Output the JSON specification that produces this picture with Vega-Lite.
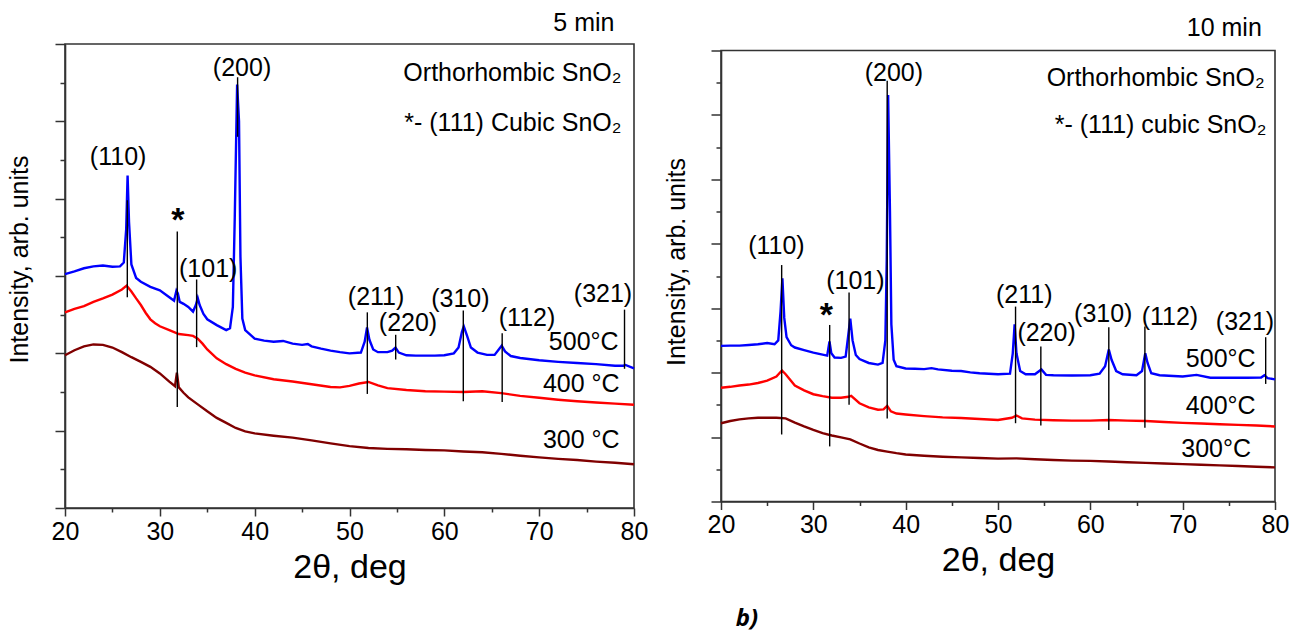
{
  "$schema": "https://vega.github.io/schema/vega-lite/v6.json",
  "autosize": {"type": "pad"},
  "padding": {"left": 6, "top": 9, "right": 10, "bottom": 5},
  "background": "white",
  "config": {
    "view": {"stroke": "#333333", "strokeWidth": 1.6},
    "axis": {
      "grid": false,
      "domainColor": "#333333", "domainWidth": 1.6,
      "tickColor": "#333333", "tickWidth": 1.5,
      "labelFont": "Liberation Sans", "labelFontSize": 25, "labelColor": "#000000",
      "titleFont": "Liberation Sans", "titleFontWeight": "normal", "titleColor": "#000000"
    },
    "text": {"font": "Liberation Sans", "fontSize": 25, "color": "#000000"}
  },
  "datasets": {
    "curves5": [
      {"t":"500","x":20,"y":6.05},{"t":"500","x":21,"y":6.12},{"t":"500","x":22,"y":6.2},{"t":"500","x":23,"y":6.25},{"t":"500","x":24,"y":6.27},{"t":"500","x":25,"y":6.24},{"t":"500","x":25.8,"y":6.25},{"t":"500","x":26.2,"y":6.35},{"t":"500","x":26.45,"y":7.2},{"t":"500","x":26.6,"y":8.6},{"t":"500","x":26.75,"y":7.4},{"t":"500","x":27,"y":6.3},{"t":"500","x":27.5,"y":5.95},{"t":"500","x":28,"y":5.85},{"t":"500","x":29,"y":5.72},{"t":"500","x":30,"y":5.63},{"t":"500","x":31,"y":5.45},{"t":"500","x":31.5,"y":5.36},{"t":"500","x":31.75,"y":5.62},{"t":"500","x":31.9,"y":5.55},{"t":"500","x":32.1,"y":5.33},{"t":"500","x":32.5,"y":5.28},{"t":"500","x":33,"y":5.2},{"t":"500","x":33.5,"y":5.08},{"t":"500","x":33.8,"y":5.25},{"t":"500","x":34,"y":5.43},{"t":"500","x":34.2,"y":5.25},{"t":"500","x":34.6,"y":5.02},{"t":"500","x":35,"y":4.88},{"t":"500","x":36,"y":4.73},{"t":"500","x":37,"y":4.6},{"t":"500","x":37.4,"y":4.65},{"t":"500","x":37.7,"y":5.2},{"t":"500","x":37.9,"y":7.5},{"t":"500","x":38.15,"y":10.95},{"t":"500","x":38.35,"y":10.0},{"t":"500","x":38.5,"y":6.5},{"t":"500","x":38.7,"y":4.9},{"t":"500","x":39,"y":4.6},{"t":"500","x":40,"y":4.38},{"t":"500","x":41,"y":4.33},{"t":"500","x":42,"y":4.3},{"t":"500","x":43,"y":4.32},{"t":"500","x":44,"y":4.25},{"t":"500","x":45,"y":4.22},{"t":"500","x":45.6,"y":4.24},{"t":"500","x":46,"y":4.18},{"t":"500","x":47,"y":4.12},{"t":"500","x":48,"y":4.07},{"t":"500","x":49,"y":4.03},{"t":"500","x":50,"y":4.0},{"t":"500","x":51.2,"y":4.02},{"t":"500","x":51.6,"y":4.3},{"t":"500","x":51.85,"y":4.67},{"t":"500","x":52.1,"y":4.35},{"t":"500","x":52.5,"y":4.1},{"t":"500","x":53,"y":4.03},{"t":"500","x":54,"y":4.03},{"t":"500","x":54.5,"y":4.07},{"t":"500","x":54.85,"y":4.15},{"t":"500","x":55.2,"y":4.02},{"t":"500","x":56,"y":3.95},{"t":"500","x":57,"y":3.94},{"t":"500","x":58,"y":3.94},{"t":"500","x":59,"y":3.94},{"t":"500","x":60,"y":3.95},{"t":"500","x":61,"y":4.0},{"t":"500","x":61.5,"y":4.15},{"t":"500","x":61.85,"y":4.55},{"t":"500","x":62.05,"y":4.7},{"t":"500","x":62.4,"y":4.45},{"t":"500","x":62.8,"y":4.15},{"t":"500","x":63.5,"y":4.02},{"t":"500","x":64.5,"y":3.96},{"t":"500","x":65.3,"y":3.96},{"t":"500","x":65.8,"y":4.12},{"t":"500","x":66.05,"y":4.2},{"t":"500","x":66.4,"y":4.05},{"t":"500","x":67,"y":3.93},{"t":"500","x":68,"y":3.88},{"t":"500","x":70,"y":3.82},{"t":"500","x":72,"y":3.78},{"t":"500","x":74,"y":3.75},{"t":"500","x":76,"y":3.72},{"t":"500","x":78,"y":3.68},{"t":"500","x":78.9,"y":3.68},{"t":"500","x":79.1,"y":3.7},{"t":"500","x":80,"y":3.61},
      {"t":"400","x":20,"y":5.06},{"t":"400","x":21,"y":5.15},{"t":"400","x":22,"y":5.22},{"t":"400","x":23,"y":5.33},{"t":"400","x":24,"y":5.42},{"t":"400","x":25,"y":5.52},{"t":"400","x":26,"y":5.65},{"t":"400","x":26.5,"y":5.75},{"t":"400","x":27,"y":5.6},{"t":"400","x":27.5,"y":5.42},{"t":"400","x":28,"y":5.25},{"t":"400","x":28.5,"y":5.05},{"t":"400","x":29,"y":4.88},{"t":"400","x":29.5,"y":4.78},{"t":"400","x":30,"y":4.7},{"t":"400","x":31,"y":4.6},{"t":"400","x":32,"y":4.5},{"t":"400","x":33,"y":4.47},{"t":"400","x":33.5,"y":4.45},{"t":"400","x":34,"y":4.38},{"t":"400","x":34.5,"y":4.25},{"t":"400","x":35,"y":4.1},{"t":"400","x":36,"y":3.87},{"t":"400","x":37,"y":3.72},{"t":"400","x":38,"y":3.6},{"t":"400","x":39,"y":3.5},{"t":"400","x":40,"y":3.43},{"t":"400","x":42,"y":3.33},{"t":"400","x":44,"y":3.27},{"t":"400","x":46,"y":3.2},{"t":"400","x":48,"y":3.13},{"t":"400","x":49,"y":3.12},{"t":"400","x":50,"y":3.16},{"t":"400","x":51,"y":3.22},{"t":"400","x":52,"y":3.26},{"t":"400","x":53,"y":3.17},{"t":"400","x":54,"y":3.1},{"t":"400","x":56,"y":3.05},{"t":"400","x":58,"y":3.02},{"t":"400","x":60,"y":3.01},{"t":"400","x":62,"y":3.0},{"t":"400","x":64,"y":3.02},{"t":"400","x":66,"y":2.97},{"t":"400","x":68,"y":2.9},{"t":"400","x":70,"y":2.85},{"t":"400","x":72,"y":2.8},{"t":"400","x":74,"y":2.76},{"t":"400","x":76,"y":2.73},{"t":"400","x":78,"y":2.7},{"t":"400","x":80,"y":2.67},
      {"t":"300","x":20,"y":3.95},{"t":"300","x":21,"y":4.08},{"t":"300","x":22,"y":4.18},{"t":"300","x":23,"y":4.23},{"t":"300","x":24,"y":4.22},{"t":"300","x":25,"y":4.15},{"t":"300","x":26,"y":4.03},{"t":"300","x":27,"y":3.9},{"t":"300","x":28,"y":3.78},{"t":"300","x":29,"y":3.65},{"t":"300","x":30,"y":3.48},{"t":"300","x":31,"y":3.27},{"t":"300","x":31.6,"y":3.15},{"t":"300","x":31.8,"y":3.5},{"t":"300","x":32,"y":3.12},{"t":"300","x":32.5,"y":2.98},{"t":"300","x":33,"y":2.86},{"t":"300","x":34,"y":2.68},{"t":"300","x":35,"y":2.5},{"t":"300","x":36,"y":2.33},{"t":"300","x":37,"y":2.2},{"t":"300","x":38,"y":2.07},{"t":"300","x":39,"y":1.98},{"t":"300","x":40,"y":1.93},{"t":"300","x":42,"y":1.87},{"t":"300","x":44,"y":1.82},{"t":"300","x":46,"y":1.75},{"t":"300","x":48,"y":1.67},{"t":"300","x":50,"y":1.6},{"t":"300","x":52,"y":1.55},{"t":"300","x":54,"y":1.53},{"t":"300","x":56,"y":1.52},{"t":"300","x":58,"y":1.5},{"t":"300","x":60,"y":1.49},{"t":"300","x":62,"y":1.46},{"t":"300","x":64,"y":1.44},{"t":"300","x":66,"y":1.4},{"t":"300","x":68,"y":1.35},{"t":"300","x":70,"y":1.31},{"t":"300","x":72,"y":1.27},{"t":"300","x":74,"y":1.24},{"t":"300","x":76,"y":1.2},{"t":"300","x":78,"y":1.17},{"t":"300","x":80,"y":1.13}
    ],
    "curves10": [
      {"t":"500","x":20,"y":4.83},{"t":"500","x":21,"y":4.84},{"t":"500","x":22,"y":4.84},{"t":"500","x":23,"y":4.86},{"t":"500","x":24,"y":4.88},{"t":"500","x":25,"y":4.92},{"t":"500","x":25.8,"y":4.88},{"t":"500","x":26.2,"y":5.0},{"t":"500","x":26.45,"y":5.9},{"t":"500","x":26.65,"y":6.93},{"t":"500","x":26.85,"y":5.7},{"t":"500","x":27.1,"y":5.1},{"t":"500","x":27.6,"y":4.85},{"t":"500","x":28,"y":4.78},{"t":"500","x":29,"y":4.7},{"t":"500","x":30,"y":4.62},{"t":"500","x":31,"y":4.56},{"t":"500","x":31.5,"y":4.53},{"t":"500","x":31.75,"y":4.97},{"t":"500","x":31.95,"y":4.6},{"t":"500","x":32.3,"y":4.47},{"t":"500","x":33,"y":4.46},{"t":"500","x":33.5,"y":4.5},{"t":"500","x":33.8,"y":5.2},{"t":"500","x":34,"y":5.68},{"t":"500","x":34.25,"y":5.0},{"t":"500","x":34.6,"y":4.55},{"t":"500","x":35,"y":4.42},{"t":"500","x":36,"y":4.3},{"t":"500","x":37,"y":4.25},{"t":"500","x":37.5,"y":4.3},{"t":"500","x":37.8,"y":5.0},{"t":"500","x":37.95,"y":7.5},{"t":"500","x":38.1,"y":12.62},{"t":"500","x":38.3,"y":9.0},{"t":"500","x":38.45,"y":5.5},{"t":"500","x":38.7,"y":4.4},{"t":"500","x":39,"y":4.2},{"t":"500","x":40,"y":4.13},{"t":"500","x":41,"y":4.12},{"t":"500","x":42,"y":4.11},{"t":"500","x":42.8,"y":4.14},{"t":"500","x":43.5,"y":4.1},{"t":"500","x":45,"y":4.06},{"t":"500","x":46,"y":4.05},{"t":"500","x":47,"y":4.01},{"t":"500","x":48,"y":3.98},{"t":"500","x":50,"y":3.95},{"t":"500","x":51.3,"y":3.97},{"t":"500","x":51.6,"y":4.6},{"t":"500","x":51.8,"y":5.5},{"t":"500","x":52,"y":4.6},{"t":"500","x":52.4,"y":4.05},{"t":"500","x":53,"y":3.95},{"t":"500","x":54,"y":3.95},{"t":"500","x":54.7,"y":4.1},{"t":"500","x":55.2,"y":3.93},{"t":"500","x":56,"y":3.92},{"t":"500","x":58,"y":3.91},{"t":"500","x":60,"y":3.92},{"t":"500","x":61,"y":3.97},{"t":"500","x":61.6,"y":4.2},{"t":"500","x":62,"y":4.72},{"t":"500","x":62.3,"y":4.4},{"t":"500","x":62.8,"y":4.05},{"t":"500","x":63.5,"y":3.95},{"t":"500","x":65,"y":3.92},{"t":"500","x":65.6,"y":4.05},{"t":"500","x":65.95,"y":4.6},{"t":"500","x":66.2,"y":4.3},{"t":"500","x":66.6,"y":3.98},{"t":"500","x":67.5,"y":3.92},{"t":"500","x":70,"y":3.88},{"t":"500","x":71.5,"y":3.93},{"t":"500","x":73,"y":3.84},{"t":"500","x":75,"y":3.84},{"t":"500","x":77,"y":3.84},{"t":"500","x":78.5,"y":3.85},{"t":"500","x":78.85,"y":3.92},{"t":"500","x":79.2,"y":3.83},{"t":"500","x":80,"y":3.79},
      {"t":"400","x":20,"y":3.53},{"t":"400","x":21,"y":3.56},{"t":"400","x":22,"y":3.6},{"t":"400","x":23,"y":3.63},{"t":"400","x":24,"y":3.68},{"t":"400","x":25,"y":3.75},{"t":"400","x":26,"y":3.88},{"t":"400","x":26.6,"y":4.07},{"t":"400","x":27,"y":3.95},{"t":"400","x":28,"y":3.6},{"t":"400","x":29,"y":3.45},{"t":"400","x":30,"y":3.33},{"t":"400","x":31,"y":3.27},{"t":"400","x":32,"y":3.22},{"t":"400","x":33,"y":3.22},{"t":"400","x":33.8,"y":3.25},{"t":"400","x":34.1,"y":3.28},{"t":"400","x":35,"y":3.05},{"t":"400","x":36,"y":2.92},{"t":"400","x":37,"y":2.85},{"t":"400","x":37.6,"y":2.86},{"t":"400","x":38,"y":2.97},{"t":"400","x":38.4,"y":2.8},{"t":"400","x":39,"y":2.73},{"t":"400","x":40,"y":2.7},{"t":"400","x":42,"y":2.65},{"t":"400","x":44,"y":2.61},{"t":"400","x":46,"y":2.59},{"t":"400","x":48,"y":2.56},{"t":"400","x":50,"y":2.53},{"t":"400","x":51.5,"y":2.6},{"t":"400","x":52,"y":2.67},{"t":"400","x":52.6,"y":2.58},{"t":"400","x":54,"y":2.54},{"t":"400","x":56,"y":2.52},{"t":"400","x":58,"y":2.51},{"t":"400","x":60,"y":2.51},{"t":"400","x":62,"y":2.53},{"t":"400","x":64,"y":2.51},{"t":"400","x":66,"y":2.5},{"t":"400","x":68,"y":2.47},{"t":"400","x":70,"y":2.44},{"t":"400","x":72,"y":2.42},{"t":"400","x":74,"y":2.4},{"t":"400","x":76,"y":2.38},{"t":"400","x":78,"y":2.36},{"t":"400","x":80,"y":2.33},
      {"t":"300","x":20,"y":2.43},{"t":"300","x":21,"y":2.5},{"t":"300","x":22,"y":2.55},{"t":"300","x":23,"y":2.58},{"t":"300","x":24,"y":2.6},{"t":"300","x":25,"y":2.6},{"t":"300","x":26,"y":2.6},{"t":"300","x":27,"y":2.58},{"t":"300","x":28,"y":2.45},{"t":"300","x":29,"y":2.33},{"t":"300","x":30,"y":2.22},{"t":"300","x":31,"y":2.12},{"t":"300","x":32,"y":2.05},{"t":"300","x":33,"y":1.99},{"t":"300","x":34,"y":1.93},{"t":"300","x":35,"y":1.8},{"t":"300","x":36,"y":1.68},{"t":"300","x":37,"y":1.6},{"t":"300","x":38,"y":1.55},{"t":"300","x":39,"y":1.5},{"t":"300","x":40,"y":1.46},{"t":"300","x":42,"y":1.42},{"t":"300","x":44,"y":1.39},{"t":"300","x":46,"y":1.37},{"t":"300","x":48,"y":1.35},{"t":"300","x":50,"y":1.33},{"t":"300","x":52,"y":1.34},{"t":"300","x":54,"y":1.31},{"t":"300","x":56,"y":1.29},{"t":"300","x":58,"y":1.27},{"t":"300","x":60,"y":1.26},{"t":"300","x":62,"y":1.24},{"t":"300","x":64,"y":1.22},{"t":"300","x":66,"y":1.2},{"t":"300","x":68,"y":1.18},{"t":"300","x":70,"y":1.16},{"t":"300","x":72,"y":1.14},{"t":"300","x":74,"y":1.12},{"t":"300","x":76,"y":1.1},{"t":"300","x":78,"y":1.08},{"t":"300","x":80,"y":1.06}
    ],
    "peaks5": [
      {"hkl":"(110)","x":26.57,"y":7.96,"y2":5.45},
      {"hkl":"*","x":31.84,"y":7.15,"y2":2.61},
      {"hkl":"(101)","x":33.88,"y":5.91,"y2":4.16},
      {"hkl":"(200)","x":38.2,"y":11.14,"y2":9.6},
      {"hkl":"(211)","x":51.88,"y":5.06,"y2":2.95},
      {"hkl":"(220)","x":54.87,"y":4.48,"y2":3.84},
      {"hkl":"(310)","x":62.0,"y":5.11,"y2":2.76},
      {"hkl":"(112)","x":66.1,"y":4.52,"y2":2.74},
      {"hkl":"(321)","x":79.0,"y":5.13,"y2":3.6}
    ],
    "peaks10": [
      {"hkl":"(110)","x":26.57,"y":7.34,"y2":2.08},
      {"hkl":"*","x":31.77,"y":5.48,"y2":1.71},
      {"hkl":"(101)","x":33.87,"y":6.49,"y2":3.0},
      {"hkl":"(200)","x":38.0,"y":13.06,"y2":2.58},
      {"hkl":"(211)","x":51.9,"y":6.05,"y2":2.43},
      {"hkl":"(220)","x":54.64,"y":4.81,"y2":2.36},
      {"hkl":"(310)","x":62.0,"y":5.41,"y2":2.22},
      {"hkl":"(112)","x":65.91,"y":5.43,"y2":2.29},
      {"hkl":"(321)","x":78.99,"y":5.1,"y2":3.65}
    ],
    "text5": [
      {"kind":"hkl","text":"(110)","x":25.6,"y":9.09},
      {"kind":"hkl","text":"(101)","x":35.1,"y":6.18},
      {"kind":"hkl","text":"(200)","x":38.67,"y":11.38},
      {"kind":"hkl","text":"(211)","x":52.8,"y":5.46},
      {"kind":"hkl","text":"(220)","x":56.17,"y":4.79},
      {"kind":"hkl","text":"(310)","x":61.69,"y":5.41},
      {"kind":"hkl","text":"(112)","x":68.72,"y":4.92},
      {"kind":"hkl","text":"(321)","x":76.73,"y":5.54},
      {"kind":"star","text":"*","x":31.89,"y":7.17},
      {"kind":"right","text":"500°C","x":78.38,"y":4.29},
      {"kind":"right","text":"400 °C","x":78.49,"y":3.21},
      {"kind":"right","text":"300 °C","x":78.49,"y":1.77},
      {"kind":"right","text":"Orthorhombic SnO₂","x":78.68,"y":11.25},
      {"kind":"right","text":"*- (111) Cubic SnO₂","x":78.68,"y":9.95},
      {"kind":"right","text":"5 min","x":77.94,"y":12.55}
    ],
    "text10": [
      {"kind":"hkl","text":"(110)","x":26.0,"y":7.94},
      {"kind":"hkl","text":"(101)","x":34.55,"y":6.85},
      {"kind":"hkl","text":"(200)","x":38.72,"y":13.31},
      {"kind":"hkl","text":"(211)","x":52.84,"y":6.42},
      {"kind":"hkl","text":"(220)","x":55.26,"y":5.22},
      {"kind":"hkl","text":"(310)","x":61.4,"y":5.82},
      {"kind":"hkl","text":"(112)","x":68.62,"y":5.72},
      {"kind":"hkl","text":"(321)","x":76.75,"y":5.56},
      {"kind":"star","text":"*","x":31.41,"y":5.44},
      {"kind":"right","text":"500°C","x":77.9,"y":4.43},
      {"kind":"right","text":"400°C","x":77.9,"y":2.95},
      {"kind":"right","text":"300°C","x":77.4,"y":1.63},
      {"kind":"right","text":"Orthorhombic SnO₂","x":78.89,"y":13.16},
      {"kind":"right","text":"*- (111) cubic SnO₂","x":79.07,"y":11.68},
      {"kind":"right","text":"10 min","x":78.57,"y":14.71},
      {"kind":"tag","text":"b)","x":21.6,"y":-3.85}
    ]
  },
  "spacing": 87,
  "bounds": "flush",
  "center": true,
  "hconcat": [
    {
      "width": 569,
      "height": 464,
      "encoding": {
        "x": {
          "field": "x", "type": "quantitative",
          "scale": {"domain": [20, 80], "nice": false, "zero": false},
          "axis": {
            "values": [20, 25, 30, 35, 40, 45, 50, 55, 60, 65, 70, 75, 80],
            "labelExpr": "datum.value % 10 === 0 ? datum.label : ''",
            "labelOverlap": false, "labelFlush": false, "labelPadding": 3,
            "tickSize": {"condition": {"test": "datum.value % 10 === 0", "value": 8}, "value": 4},
            "title": "2θ, deg", "titleFontSize": 34, "titlePadding": 6
          }
        },
        "y": {
          "field": "y", "type": "quantitative",
          "scale": {"domain": [0, 12], "nice": false, "zero": false},
          "axis": {
            "values": [0, 1, 2, 3, 4, 5, 6, 7, 8, 9, 10, 11, 12],
            "labels": false,
            "tickSize": {"condition": {"test": "datum.value % 2 === 0", "value": 10}, "value": 5},
            "title": "Intensity, arb. units", "titleFontSize": 25,
            "titleX": -33, "titleY": 215, "titleBaseline": "bottom"
          }
        }
      },
      "layer": [
        {
          "data": {"name": "curves5"},
          "mark": {"type": "line", "strokeWidth": 2.4},
          "encoding": {
            "color": {"field": "t", "type": "nominal", "legend": null,
              "scale": {"domain": ["500", "400", "300"], "range": ["#0000ff", "#ff0000", "#800000"]}}
          }
        },
        {
          "data": {"name": "peaks5"},
          "mark": {"type": "rule", "color": "#000000", "strokeWidth": 1.4},
          "encoding": {"y2": {"field": "y2"}}
        },
        {
          "data": {"name": "text5"},
          "transform": [{"filter": "datum.kind === 'hkl'"}],
          "mark": {"type": "text", "align": "center", "baseline": "middle", "fontSize": 25},
          "encoding": {"text": {"field": "text"}}
        },
        {
          "data": {"name": "text5"},
          "transform": [{"filter": "datum.kind === 'star'"}],
          "mark": {"type": "text", "align": "center", "baseline": "alphabetic", "fontSize": 34, "fontWeight": "bold"},
          "encoding": {"text": {"field": "text"}}
        },
        {
          "data": {"name": "text5"},
          "transform": [{"filter": "datum.kind === 'right'"}],
          "mark": {"type": "text", "align": "right", "baseline": "middle", "fontSize": 25},
          "encoding": {"text": {"field": "text"}}
        }
      ]
    },
    {
      "width": 554,
      "height": 451,
      "encoding": {
        "x": {
          "field": "x", "type": "quantitative",
          "scale": {"domain": [20, 80], "nice": false, "zero": false},
          "axis": {
            "values": [20, 25, 30, 35, 40, 45, 50, 55, 60, 65, 70, 75, 80],
            "labelExpr": "datum.value % 10 === 0 ? datum.label : ''",
            "labelOverlap": false, "labelFlush": false, "labelPadding": 3,
            "tickSize": {"condition": {"test": "datum.value % 10 === 0", "value": 8}, "value": 4},
            "title": "2θ, deg", "titleFontSize": 34, "titlePadding": 6
          }
        },
        "y": {
          "field": "y", "type": "quantitative",
          "scale": {"domain": [0, 14], "nice": false, "zero": false},
          "axis": {
            "values": [0, 1, 2, 3, 4, 5, 6, 7, 8, 9, 10, 11, 12, 13, 14],
            "labels": false,
            "tickSize": {"condition": {"test": "datum.value % 2 === 0", "value": 10}, "value": 5},
            "title": "Intensity, arb. units", "titleFontSize": 25,
            "titleX": -32, "titleY": 211, "titleBaseline": "bottom"
          }
        }
      },
      "layer": [
        {
          "data": {"name": "curves10"},
          "mark": {"type": "line", "strokeWidth": 2.4},
          "encoding": {
            "color": {"field": "t", "type": "nominal", "legend": null,
              "scale": {"domain": ["500", "400", "300"], "range": ["#0000ff", "#ff0000", "#800000"]}}
          }
        },
        {
          "data": {"name": "peaks10"},
          "mark": {"type": "rule", "color": "#000000", "strokeWidth": 1.4},
          "encoding": {"y2": {"field": "y2"}}
        },
        {
          "data": {"name": "text10"},
          "transform": [{"filter": "datum.kind === 'hkl'"}],
          "mark": {"type": "text", "align": "center", "baseline": "middle", "fontSize": 25},
          "encoding": {"text": {"field": "text"}}
        },
        {
          "data": {"name": "text10"},
          "transform": [{"filter": "datum.kind === 'star'"}],
          "mark": {"type": "text", "align": "center", "baseline": "alphabetic", "fontSize": 34, "fontWeight": "bold"},
          "encoding": {"text": {"field": "text"}}
        },
        {
          "data": {"name": "text10"},
          "transform": [{"filter": "datum.kind === 'right'"}],
          "mark": {"type": "text", "align": "right", "baseline": "middle", "fontSize": 25},
          "encoding": {"text": {"field": "text"}}
        },
        {
          "data": {"name": "text10"},
          "transform": [{"filter": "datum.kind === 'tag'"}],
          "mark": {"type": "text", "align": "left", "baseline": "alphabetic", "fontSize": 24, "fontWeight": "bold", "fontStyle": "italic", "font": "Open Sans"},
          "encoding": {"text": {"field": "text"}}
        }
      ]
    }
  ]
}
